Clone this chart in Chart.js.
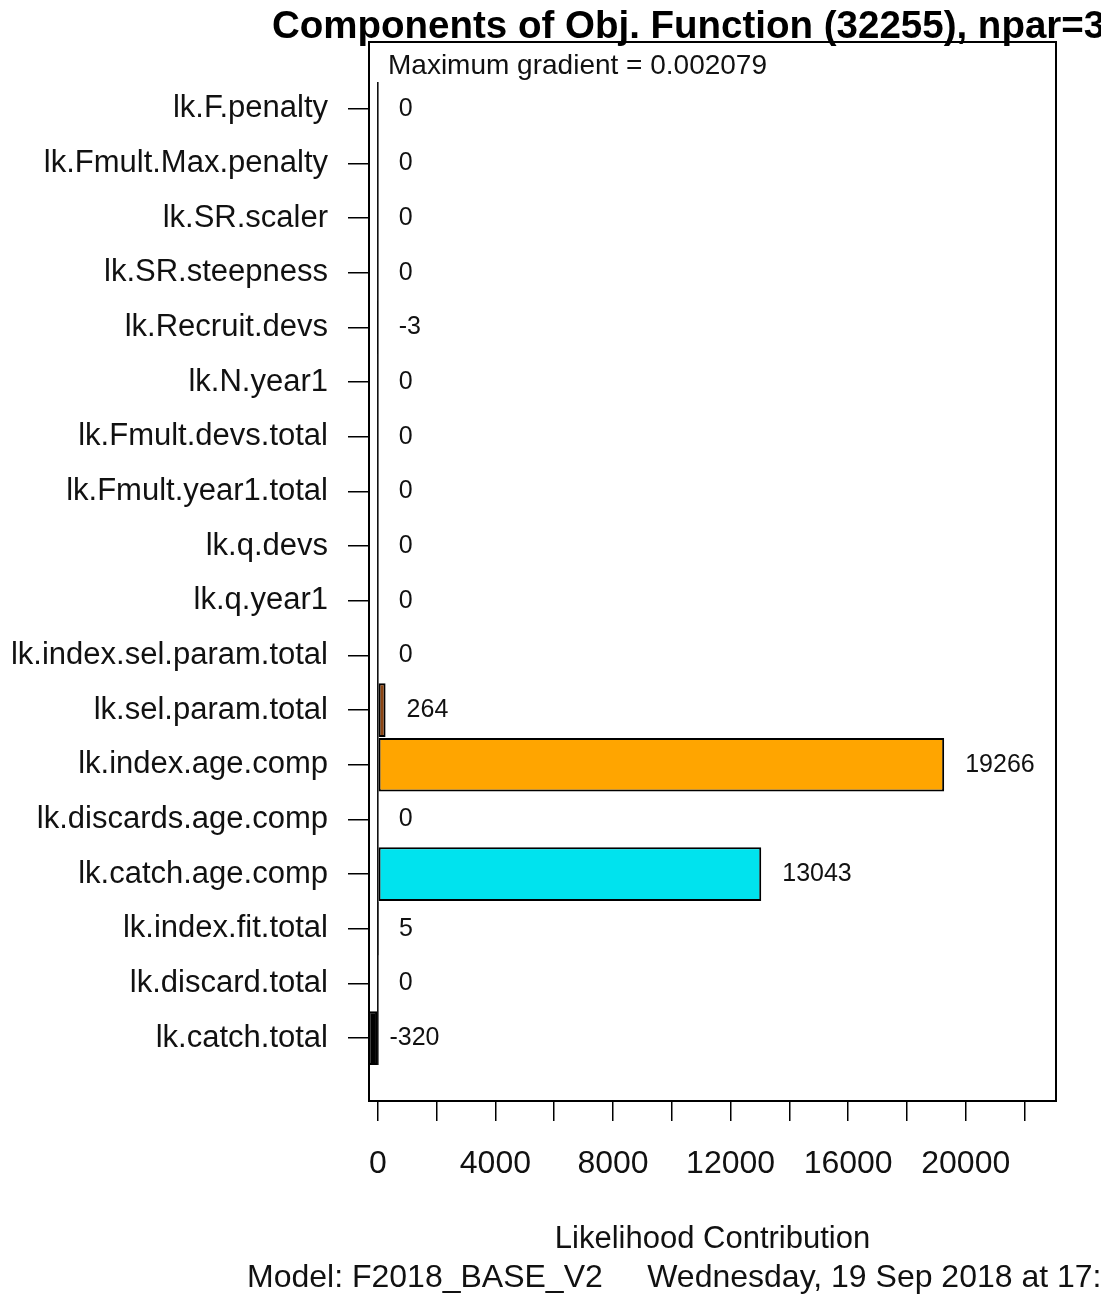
<!DOCTYPE html>
<html>
<head>
<meta charset="utf-8">
<script src="https://cdn.jsdelivr.net/npm/chart.js@4/dist/chart.umd.min.js"></script>
<style>
  html, body { margin: 0; padding: 0; background: #ffffff; }
  #wrap { width: 1101px; height: 1295px; position: relative; }
</style>
</head>
<body>
<div id="wrap"><canvas id="c" width="1101" height="1295"></canvas></div>
<script>
// ---- data ----
const categories = [
  'lk.F.penalty', 'lk.Fmult.Max.penalty', 'lk.SR.scaler', 'lk.SR.steepness',
  'lk.Recruit.devs', 'lk.N.year1', 'lk.Fmult.devs.total', 'lk.Fmult.year1.total',
  'lk.q.devs', 'lk.q.year1', 'lk.index.sel.param.total', 'lk.sel.param.total',
  'lk.index.age.comp', 'lk.discards.age.comp', 'lk.catch.age.comp',
  'lk.index.fit.total', 'lk.discard.total', 'lk.catch.total'
];
const contributions = [0, 0, 0, 0, -3, 0, 0, 0, 0, 0, 0, 264, 19266, 0, 13043, 5, 0, -320];
const barColors = [
  '#FF0000', '#FF5500', '#FFAA00', '#FFFF00', '#AAFF00', '#55FF00', '#00FF00', '#00FF55',
  '#00FFAA', '#00FFFF', '#00AAFF', '#8B4513', '#FFA500', '#5500FF', '#00E3EE',
  '#FF00FF', '#FF00AA', '#000000'
];
const xTickValues = [0, 2000, 4000, 6000, 8000, 10000, 12000, 14000, 16000, 18000, 20000, 22000];
const xTickLabels = ['0', '', '4000', '', '8000', '', '12000', '', '16000', '', '20000', ''];
const titleText = 'Components of Obj. Function (32255), npar=3';
const subText = 'Maximum gradient = 0.002079';
const xAxisTitle = 'Likelihood Contribution';
const footerText = 'Model: F2018_BASE_V2     Wednesday, 19 Sep 2018 at 17:';

const FONT = "'Liberation Sans', Arial, sans-serif";
const INK = '#111111';

const extras = {
  id: 'extras',
  afterDatasetsDraw(chart) {
    const {ctx, chartArea, scales} = chart;
    const meta = chart.getDatasetMeta(0);
    const x0 = scales.x.getPixelForValue(0);
    // zero line formed by the zero-width bars
    const first = meta.data[0], last = meta.data[meta.data.length - 1];
    ctx.save();
    ctx.strokeStyle = '#000';
    ctx.lineWidth = 1.5;
    ctx.beginPath();
    ctx.moveTo(x0, first.y - first.height / 2);
    ctx.lineTo(x0, last.y + last.height / 2);
    ctx.stroke();
    // value labels
    ctx.fillStyle = INK;
    ctx.font = '25px ' + FONT;
    ctx.textAlign = 'left';
    ctx.textBaseline = 'middle';
    contributions.forEach((v, i) => {
      const px = scales.x.getPixelForValue(v > 0 ? v : Math.min(v, 0));
      const py = scales.y.getPixelForValue(i);
      ctx.fillText(String(v), px + 21, py);
    });
    // plot box
    ctx.lineWidth = 2;
    ctx.strokeStyle = '#000';
    ctx.strokeRect(chartArea.left, chartArea.top, chartArea.right - chartArea.left, chartArea.bottom - chartArea.top);
    // subtitle inside the box
    ctx.font = '28px ' + FONT;
    ctx.fillText(subText, 388, 66);
    // main title
    ctx.font = 'bold 38.5px ' + FONT;
    ctx.textBaseline = 'alphabetic';
    ctx.fillStyle = '#000';
    ctx.fillText(titleText, 272, 38);
    // footer
    ctx.font = '32px ' + FONT;
    ctx.fillStyle = INK;
    ctx.fillText(footerText, 247, 1287);
    ctx.restore();
  }
};

new Chart(document.getElementById('c'), {
  type: 'bar',
  data: {
    datasets: [{
      data: contributions.map((v, i) => ({x: v, y: i})),
      backgroundColor: barColors,
      borderColor: '#000000',
      borderWidth: 2,
      borderSkipped: false,
      categoryPercentage: 1,
      barPercentage: 0.98
    }]
  },
  options: {
    indexAxis: 'y',
    responsive: false,
    animation: false,
    devicePixelRatio: 1,
    layout: { padding: { top: 42, right: 45, bottom: 0, left: 0 } },
    plugins: { legend: { display: false }, tooltip: { enabled: false }, title: { display: false } },
    scales: {
      y: {
        type: 'linear',
        reverse: true,
        offset: false,
        min: -1.22,
        max: 18.15,
        afterBuildTicks: axis => { axis.ticks = categories.map((_, i) => ({value: i})); },
        afterFit: axis => { axis.width = 369; },
        border: { display: false },
        grid: { offset: false, drawOnChartArea: false, drawTicks: true, tickLength: 21, color: '#000', lineWidth: 1.5 },
        ticks: {
          autoSkip: false,
          padding: 20,
          color: INK,
          font: { family: FONT, size: 31 },
          callback: (v) => categories[v]
        }
      },
      x: {
        type: 'linear',
        min: -300,
        max: 23070,
        afterBuildTicks: axis => { axis.ticks = xTickValues.map(v => ({value: v})); },
        afterFit: axis => { axis.height = 194; },
        border: { display: false },
        grid: { drawOnChartArea: false, drawTicks: true, tickLength: 20, color: '#000', lineWidth: 1.5 },
        ticks: {
          autoSkip: false,
          maxRotation: 0,
          padding: 24,
          color: INK,
          font: { family: FONT, size: 32 },
          callback: (v, i) => xTickLabels[i]
        },
        title: {
          display: true,
          text: xAxisTitle,
          color: INK,
          font: { family: FONT, size: 31 },
          padding: { top: 0, bottom: 37 }
        }
      }
    }
  },
  plugins: [extras]
});
</script>
</body>
</html>
